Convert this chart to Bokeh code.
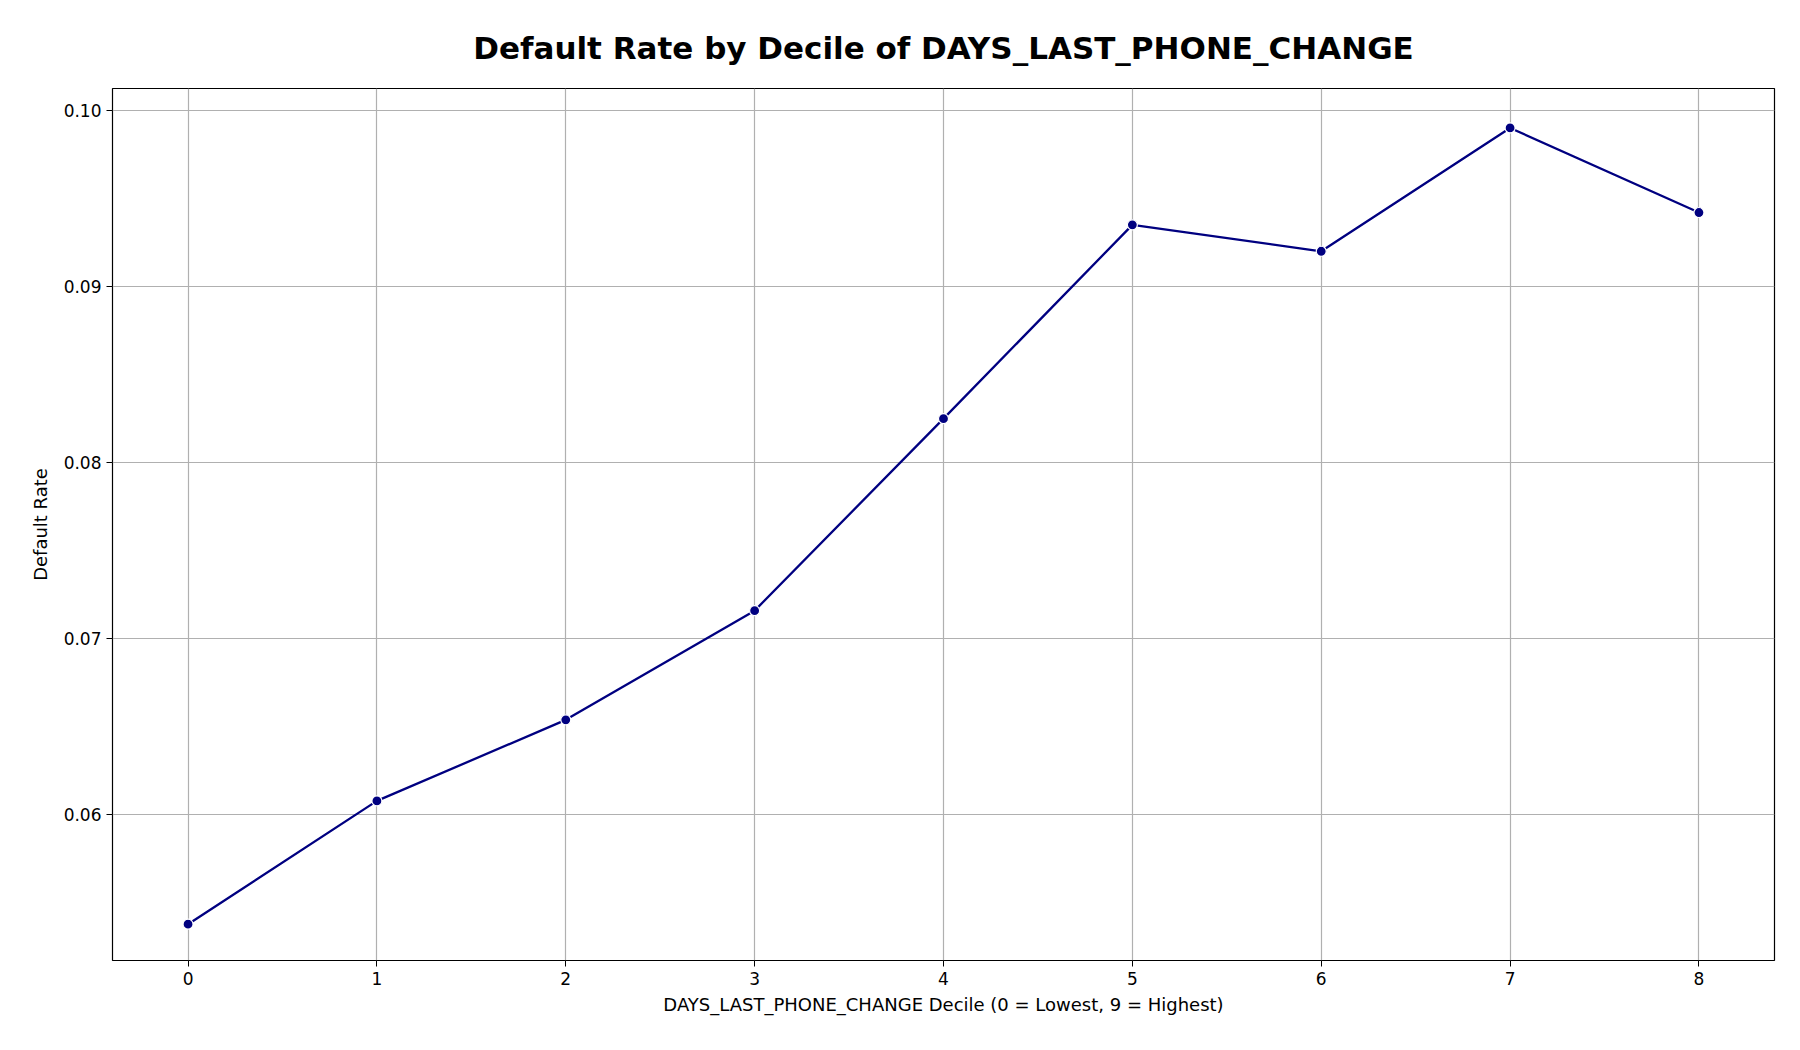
from bokeh.plotting import figure
from bokeh.models import Range1d, FixedTicker, Title, CustomJSTickFormatter
from bokeh.embed import file_html
from bokeh.resources import INLINE

deciles = [0, 1, 2, 3, 4, 5, 6, 7, 8]
default_rate = [0.0538, 0.0608, 0.0654, 0.0716, 0.0825, 0.0935, 0.0920, 0.0990, 0.0942]

p = figure(frame_width=1662, frame_height=872, output_backend="svg",
           toolbar_location=None,
           x_range=Range1d(-0.4, 8.4), y_range=Range1d(0.05174, 0.10124),
           min_border_left=112, min_border_right=8, min_border_top=88,
           min_border_bottom=70)

p.title = Title(text="Default Rate by Decile of DAYS_LAST_PHONE_CHANGE",
                align="center", text_font_size="31px", text_color="black",
                text_font="DejaVu Sans", text_font_style="bold", offset=0)
p.title.standoff = 45

p.line(deciles, default_rate, color="navy", line_width=2.3)
p.scatter(deciles, default_rate, size=10, fill_color="navy",
          line_color="white", line_width=1.2)

p.xaxis.ticker = FixedTicker(ticks=deciles)
p.yaxis.ticker = FixedTicker(ticks=[0.06, 0.07, 0.08, 0.09, 0.10])
p.yaxis.formatter = CustomJSTickFormatter(code="return tick.toFixed(2);")

p.xaxis.axis_label = "DAYS_LAST_PHONE_CHANGE Decile (0 = Lowest, 9 = Highest)"
p.yaxis.axis_label = "Default Rate"
for ax in (p.xaxis, p.yaxis):
    ax.axis_label_text_font = "DejaVu Sans"
    ax.axis_label_text_font_style = "normal"
    ax.axis_label_text_font_size = "18px"
    ax.axis_label_text_color = "black"
    ax.major_label_text_font = "DejaVu Sans"
    ax.major_label_text_font_size = "17px"
    ax.major_label_text_color = "black"
    ax.axis_line_color = None
    ax.minor_tick_line_color = None
    ax.major_tick_line_color = "black"
    ax.major_tick_in = 0
    ax.major_tick_out = 6
p.xaxis.axis_label_standoff = 6
p.yaxis.axis_label_standoff = 10

p.grid.grid_line_color = "#b0b0b0"
p.grid.grid_line_width = 1.2
p.outline_line_color = "black"
p.outline_line_width = 1.2

open("out.html", "w").write(file_html(p, INLINE))
